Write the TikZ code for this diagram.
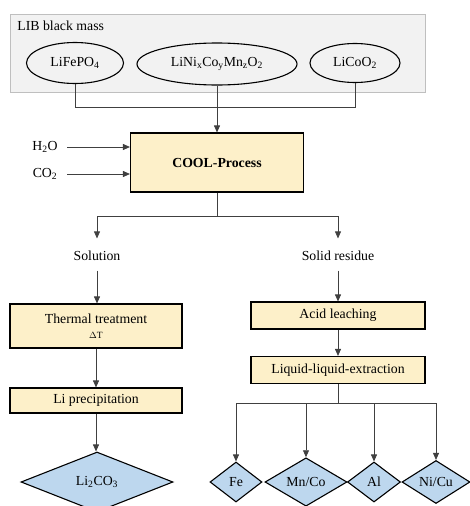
\documentclass[tikz,border=0pt]{standalone}
\usepackage{fontspec}
\setmainfont{Liberation Serif}
\usepackage{tikz}
\usetikzlibrary{positioning}
\usetikzlibrary{shapes.geometric}
\usetikzlibrary{arrows.meta}
\definecolor{stepfill}{HTML}{FDF0C9}
\definecolor{prodfill}{HTML}{BDD7EE}
\definecolor{massfill}{HTML}{F2F2F2}
\definecolor{massline}{HTML}{BFBFBF}
\definecolor{flowline}{HTML}{404040}

\begin{document}
\begin{tikzpicture}[x=1pt, y=-1pt, >={Triangle[length=7pt,width=6pt]},
    line width=0.8pt, font=\fontsize{13.8}{16}\selectfont,
    flow/.style={draw=flowline, line width=0.8pt},
    stepbox/.style={rectangle, draw, line width=1.1pt, fill=stepfill, inner sep=0pt, align=center},
    compound/.style={ellipse, draw, line width=1.1pt, inner sep=0pt},
    product/.style={diamond, draw, line width=1.1pt, fill=prodfill, inner sep=0pt}]
        \useasboundingbox (0,0) rectangle (470,506);

        % black mass
        \node [rectangle, draw=massline, fill=massfill, line width=1pt, minimum width=415pt,
            minimum height=78pt] (mass) at (217.5,53) {};
        \node [anchor=west, inner sep=0pt] (masslabel) at (17,26) {LIB black mass};
        \node [compound, minimum width=97pt, minimum height=41pt] (lfp) at (75,63) {LiFePO\textsubscript{4}};
        \node [compound, minimum width=160pt, minimum height=42pt] (nmc) at (217,64)
            {LiNi\textsubscript{x}Co\textsubscript{y}Mn\textsubscript{z}O\textsubscript{2}};
        \node [compound, minimum width=90pt, minimum height=39pt] (lco) at (355,63) {LiCoO\textsubscript{2}};

        % process
        \node [stepbox, minimum width=173pt, minimum height=59pt] (cool) at (217,162.5) {\bfseries COOL-Process};
        \node (water) at (45,147) {H\textsubscript{2}O};
        \node (carbon) at (45,174) {CO\textsubscript{2}};

        \coordinate (join) at (217,107);
        \draw [flow] (lfp.south) |- (join);
        \draw [flow] (lco.south) |- (join);
        \draw [flow, ->] (nmc.south) -- (nmc.south |- cool.north);

        \draw [flow, ->] (67,147) -- (water -| cool.west);
        \draw [flow, ->] (67,174) -- (carbon -| cool.west);

        \node (sol) at (97,256) {Solution};
        \node (res) at (338,256) {Solid residue};
        \coordinate (split) at (217,216);
        \draw [flow] (cool.south) -- (split);
        \draw [flow, ->] (split) -| ([yshift=9pt]sol.north);
        \draw [flow, ->] (split) -| ([yshift=9pt]res.north);

        % solution branch
        \node [stepbox, minimum width=172pt, minimum height=44pt] (thermal) at (96,326)
            {Thermal treatment\\[-1pt]{\fontsize{9.5}{10}\selectfont $\Delta$T}};
        \node [stepbox, minimum width=172pt, minimum height=25pt] (prec) at (96,400.5) {Li precipitation};
        \node [product, minimum width=152pt, minimum height=60pt] (carbonate) at (97,482) {Li\textsubscript{2}CO\textsubscript{3}};

        \draw [flow, ->, shorten <=6pt] (sol.south) -- (sol.south |- thermal.north);
        \draw [flow, ->] (thermal.south) -- (thermal.south |- prec.north);
        \draw [flow, ->] (prec.south) -- (prec.south |- carbonate.north);

        % residue branch
        \node [stepbox, minimum width=174pt, minimum height=27pt] (acid) at (338,315.5) {Acid leaching};
        \node [stepbox, minimum width=174pt, minimum height=27pt] (lle) at (338,370) {Liquid-liquid-extraction};

        \draw [flow, ->, shorten <=6pt] (res.south) -- (res.south |- acid.north);
        \draw [flow, ->] (acid.south) -- (lle.north);

        \node [product, minimum width=52pt, minimum height=40pt] (fe) at (236,482) {Fe};
        \node [product, minimum width=82pt, minimum height=40pt] (mnco) at (306,482) {Mn/Co};
        \node [product, minimum width=53pt, minimum height=40pt] (al) at (374,482) {Al};
        \node [product, minimum width=68pt, minimum height=40pt] (nicu) at (436,482) {Ni/Cu};

        \coordinate (fork) at (338,403);
        \draw [flow] (lle.south) -- (fork);
        \foreach \metal in {fe, mnco, al, nicu}
            \draw [flow, ->] (fork) -| (\metal.north);
   \end{tikzpicture}
\end{document}
